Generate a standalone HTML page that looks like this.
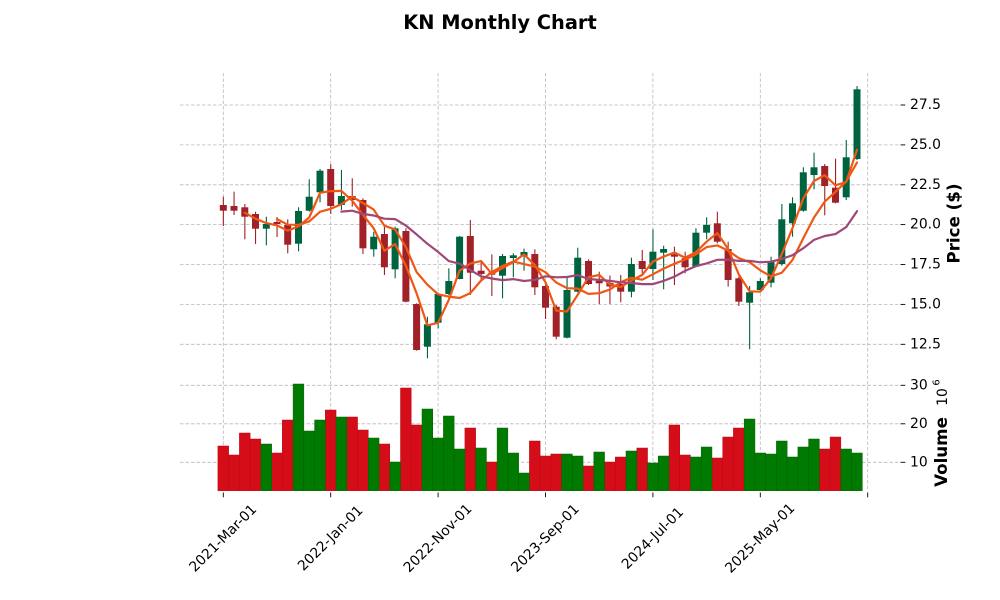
<!DOCTYPE html>
<html>
<head>
<meta charset="utf-8">
<style>
html,body{margin:0;padding:0;background:#fff;}
svg{display:block;}
text{font-family:"DejaVu Sans","Liberation Sans",sans-serif;fill:#000;}
</style>
</head>
<body>
<svg width="1000" height="600" viewBox="0 0 1000 600" xmlns="http://www.w3.org/2000/svg">
<rect width="1000" height="600" fill="#fff"/>
<text x="500" y="29" text-anchor="middle" font-size="19.4" font-weight="bold">KN Monthly Chart</text>

<!-- grid -->
<g stroke="#b9b9b9" stroke-width="0.8" stroke-dasharray="3.5,2" fill="none">
  <line x1="180" y1="105" x2="900" y2="105"/>
  <line x1="180" y1="144.9" x2="900" y2="144.9"/>
  <line x1="180" y1="184.8" x2="900" y2="184.8"/>
  <line x1="180" y1="224.6" x2="900" y2="224.6"/>
  <line x1="180" y1="264.5" x2="900" y2="264.5"/>
  <line x1="180" y1="304.4" x2="900" y2="304.4"/>
  <line x1="180" y1="344.3" x2="900" y2="344.3"/>
  <line x1="180" y1="385.3" x2="900" y2="385.3"/>
  <line x1="180" y1="423.8" x2="900" y2="423.8"/>
  <line x1="180" y1="462.3" x2="900" y2="462.3"/>
  <line x1="223.3" y1="73" x2="223.3" y2="491"/>
  <line x1="330.7" y1="73" x2="330.7" y2="491"/>
  <line x1="438.1" y1="73" x2="438.1" y2="491"/>
  <line x1="545.5" y1="73" x2="545.5" y2="491"/>
  <line x1="652.9" y1="73" x2="652.9" y2="491"/>
  <line x1="760.3" y1="73" x2="760.3" y2="491"/>
  <line x1="867.7" y1="73" x2="867.7" y2="491"/>
</g>

<!-- price ticks -->
<g stroke="#000" stroke-width="0.9">
  <line x1="900.5" y1="105" x2="905.3" y2="105"/>
  <line x1="900.5" y1="144.9" x2="905.3" y2="144.9"/>
  <line x1="900.5" y1="184.8" x2="905.3" y2="184.8"/>
  <line x1="900.5" y1="224.6" x2="905.3" y2="224.6"/>
  <line x1="900.5" y1="264.5" x2="905.3" y2="264.5"/>
  <line x1="900.5" y1="304.4" x2="905.3" y2="304.4"/>
  <line x1="900.5" y1="344.3" x2="905.3" y2="344.3"/>
  <line x1="900.5" y1="385.3" x2="905.3" y2="385.3"/>
  <line x1="900.5" y1="423.8" x2="905.3" y2="423.8"/>
  <line x1="900.5" y1="462.3" x2="905.3" y2="462.3"/>
  <line x1="223.3" y1="492.5" x2="223.3" y2="497.3"/>
  <line x1="330.7" y1="492.5" x2="330.7" y2="497.3"/>
  <line x1="438.1" y1="492.5" x2="438.1" y2="497.3"/>
  <line x1="545.5" y1="492.5" x2="545.5" y2="497.3"/>
  <line x1="652.9" y1="492.5" x2="652.9" y2="497.3"/>
  <line x1="760.3" y1="492.5" x2="760.3" y2="497.3"/>
  <line x1="867.7" y1="492.5" x2="867.7" y2="497.3"/>
</g>
<g font-size="13.9" dominant-baseline="central">
  <text x="910" y="105">27.5</text>
  <text x="910" y="144.9">25.0</text>
  <text x="910" y="184.8">22.5</text>
  <text x="910" y="224.6">20.0</text>
  <text x="910" y="264.5">17.5</text>
  <text x="910" y="304.4">15.0</text>
  <text x="910" y="344.3">12.5</text>
  <text x="910" y="385.3">30</text>
  <text x="910" y="423.8">20</text>
  <text x="910" y="462.3">10</text>
</g>
<g font-size="13.9" text-anchor="middle" dominant-baseline="central">
  <text transform="translate(223.3,538.5) rotate(-45)">2021-Mar-01</text>
  <text transform="translate(330.7,538.5) rotate(-45)">2022-Jan-01</text>
  <text transform="translate(438.1,538.5) rotate(-45)">2022-Nov-01</text>
  <text transform="translate(545.5,538.5) rotate(-45)">2023-Sep-01</text>
  <text transform="translate(652.9,538.5) rotate(-45)">2024-Jul-01</text>
  <text transform="translate(760.3,538.5) rotate(-45)">2025-May-01</text>
</g>
<text transform="translate(953.5,223.5) rotate(-90)" text-anchor="middle" dominant-baseline="central" font-size="16.7" font-weight="bold">Price ($)</text>
<text transform="translate(941,452) rotate(-90)" text-anchor="middle" dominant-baseline="central" font-size="16.7" font-weight="bold">Volume</text>
<text transform="translate(943,397) rotate(-90)" text-anchor="middle" dominant-baseline="central" font-size="13.9">10</text>
<text transform="translate(937,382.5) rotate(-90)" text-anchor="middle" dominant-baseline="central" font-size="9.8">6</text>

<!-- volume bars -->
<g stroke-width="0.5">
<g fill="#d50d18" stroke="#b80b15">
<rect x="217.9" y="446" width="10.74" height="44.7"/>
<rect x="228.6" y="455" width="10.74" height="35.7"/>
<rect x="239.4" y="433" width="10.74" height="57.7"/>
<rect x="250.1" y="439" width="10.74" height="51.7"/>
<rect x="271.6" y="453" width="10.74" height="37.7"/>
<rect x="282.3" y="420" width="10.74" height="70.7"/>
<rect x="325.3" y="410" width="10.74" height="80.7"/>
<rect x="346.8" y="417" width="10.74" height="73.7"/>
<rect x="357.5" y="430" width="10.74" height="60.7"/>
<rect x="379.0" y="444" width="10.74" height="46.7"/>
<rect x="400.5" y="388" width="10.74" height="102.7"/>
<rect x="411.2" y="425" width="10.74" height="65.7"/>
<rect x="464.9" y="428" width="10.74" height="62.7"/>
<rect x="486.4" y="462" width="10.74" height="28.7"/>
<rect x="529.4" y="441" width="10.74" height="49.7"/>
<rect x="540.1" y="456" width="10.74" height="34.7"/>
<rect x="550.8" y="454" width="10.74" height="36.7"/>
<rect x="583.1" y="466" width="10.74" height="24.7"/>
<rect x="604.5" y="462" width="10.74" height="28.7"/>
<rect x="615.3" y="457" width="10.74" height="33.7"/>
<rect x="636.8" y="448" width="10.74" height="42.7"/>
<rect x="669.0" y="425" width="10.74" height="65.7"/>
<rect x="679.7" y="455" width="10.74" height="35.7"/>
<rect x="711.9" y="458" width="10.74" height="32.7"/>
<rect x="722.7" y="437" width="10.74" height="53.7"/>
<rect x="733.4" y="428" width="10.74" height="62.7"/>
<rect x="819.3" y="449" width="10.74" height="41.7"/>
<rect x="830.1" y="437" width="10.74" height="53.7"/>
</g>
<g fill="#007a00" stroke="#006200">
<rect x="260.9" y="444" width="10.74" height="46.7"/>
<rect x="293.1" y="384" width="10.74" height="106.7"/>
<rect x="303.8" y="431" width="10.74" height="59.7"/>
<rect x="314.6" y="420" width="10.74" height="70.7"/>
<rect x="336.0" y="417" width="10.74" height="73.7"/>
<rect x="368.3" y="438" width="10.74" height="52.7"/>
<rect x="389.7" y="462" width="10.74" height="28.7"/>
<rect x="422.0" y="409" width="10.74" height="81.7"/>
<rect x="432.7" y="438" width="10.74" height="52.7"/>
<rect x="443.4" y="416" width="10.74" height="74.7"/>
<rect x="454.2" y="449" width="10.74" height="41.7"/>
<rect x="475.7" y="448" width="10.74" height="42.7"/>
<rect x="497.1" y="428" width="10.74" height="62.7"/>
<rect x="507.9" y="453" width="10.74" height="37.7"/>
<rect x="518.6" y="473" width="10.74" height="17.7"/>
<rect x="561.6" y="454" width="10.74" height="36.7"/>
<rect x="572.3" y="456" width="10.74" height="34.7"/>
<rect x="593.8" y="452" width="10.74" height="38.7"/>
<rect x="626.0" y="451" width="10.74" height="39.7"/>
<rect x="647.5" y="463" width="10.74" height="27.7"/>
<rect x="658.2" y="456" width="10.74" height="34.7"/>
<rect x="690.5" y="457" width="10.74" height="33.7"/>
<rect x="701.2" y="447" width="10.74" height="43.7"/>
<rect x="744.2" y="419" width="10.74" height="71.7"/>
<rect x="754.9" y="453" width="10.74" height="37.7"/>
<rect x="765.6" y="454" width="10.74" height="36.7"/>
<rect x="776.4" y="441" width="10.74" height="49.7"/>
<rect x="787.1" y="457" width="10.74" height="33.7"/>
<rect x="797.9" y="447" width="10.74" height="43.7"/>
<rect x="808.6" y="439" width="10.74" height="51.7"/>
<rect x="840.8" y="449" width="10.74" height="41.7"/>
<rect x="851.6" y="453" width="10.74" height="37.7"/>
</g>
</g>

<!-- candles: down -->
<g fill="#a02128">
<rect x="222.8" y="196.7" width="1.1" height="29.3"/><rect x="219.8" y="205" width="7" height="5.7"/>
<rect x="233.5" y="191.7" width="1.1" height="23.3"/><rect x="230.5" y="206" width="7" height="4.7"/>
<rect x="244.3" y="204" width="1.1" height="35.3"/><rect x="241.3" y="207.3" width="7" height="9.4"/>
<rect x="255.0" y="211.7" width="1.1" height="32.3"/><rect x="252.0" y="214" width="7" height="14.7"/>
<rect x="276.5" y="217" width="1.1" height="20"/><rect x="273.5" y="222" width="7" height="2"/>
<rect x="287.2" y="219.3" width="1.1" height="34"/><rect x="284.2" y="225" width="7" height="19.7"/>
<rect x="330.2" y="164.3" width="1.1" height="49.7"/><rect x="327.2" y="169" width="7" height="37"/>
<rect x="351.7" y="178.3" width="1.1" height="28.4"/><rect x="348.7" y="196" width="7" height="4"/>
<rect x="362.4" y="198.3" width="1.1" height="55.7"/><rect x="359.4" y="200" width="7" height="48.3"/>
<rect x="383.9" y="226.7" width="1.1" height="48.3"/><rect x="380.9" y="234" width="7" height="33.3"/>
<rect x="405.4" y="228.3" width="1.1" height="74"/><rect x="402.4" y="231" width="7" height="70.7"/>
<rect x="416.1" y="303.3" width="1.1" height="47.4"/><rect x="413.1" y="304" width="7" height="46"/>
<rect x="469.8" y="220" width="1.1" height="75"/><rect x="466.8" y="236" width="7" height="36.7"/>
<rect x="480.6" y="261.7" width="1.1" height="20"/><rect x="477.6" y="270.7" width="7" height="3.3"/>
<rect x="491.3" y="254.3" width="1.1" height="41.7"/><rect x="488.3" y="272.7" width="7" height="2"/>
<rect x="534.3" y="249.3" width="1.1" height="45.7"/><rect x="531.3" y="254" width="7" height="33.3"/>
<rect x="545.0" y="285" width="1.1" height="34"/><rect x="542.0" y="286" width="7" height="21.7"/>
<rect x="555.7" y="305" width="1.1" height="34.3"/><rect x="552.7" y="306.7" width="7" height="30"/>
<rect x="588.0" y="259.3" width="1.1" height="25.7"/><rect x="585.0" y="261" width="7" height="23"/>
<rect x="598.7" y="271.7" width="1.1" height="32.3"/><rect x="595.7" y="280.7" width="7" height="2.6"/>
<rect x="609.4" y="275.5" width="1.1" height="28.5"/><rect x="606.4" y="283" width="7" height="3.5"/>
<rect x="620.2" y="275" width="1.1" height="27.3"/><rect x="617.2" y="284" width="7" height="7.7"/>
<rect x="641.7" y="250" width="1.1" height="23.3"/><rect x="638.7" y="261" width="7" height="8"/>
<rect x="673.9" y="246.7" width="1.1" height="38.3"/><rect x="670.9" y="254.3" width="7" height="2.4"/>
<rect x="684.6" y="251.7" width="1.1" height="21.6"/><rect x="681.6" y="258.3" width="7" height="9"/>
<rect x="716.8" y="211.7" width="1.1" height="31.6"/><rect x="713.8" y="223.3" width="7" height="18.4"/>
<rect x="727.6" y="241.7" width="1.1" height="45"/><rect x="724.6" y="249" width="7" height="31"/>
<rect x="738.3" y="276.7" width="1.1" height="29.3"/><rect x="735.3" y="278.3" width="7" height="23.4"/>
<rect x="824.2" y="164" width="1.1" height="51.3"/><rect x="821.2" y="166" width="7" height="20"/>
<rect x="835.0" y="158.7" width="1.1" height="44.6"/><rect x="832.0" y="187.7" width="7" height="15"/>
</g>
<!-- candles: up -->
<g fill="#006340">
<rect x="265.8" y="216.7" width="1.1" height="28.6"/><rect x="262.8" y="224" width="7" height="4.7"/>
<rect x="298.0" y="207.3" width="1.1" height="44"/><rect x="295.0" y="211" width="7" height="32.7"/>
<rect x="308.7" y="179.3" width="1.1" height="32.4"/><rect x="305.7" y="196.7" width="7" height="14"/>
<rect x="319.5" y="169" width="1.1" height="33.3"/><rect x="316.5" y="170.7" width="7" height="21.6"/>
<rect x="340.9" y="170" width="1.1" height="40"/><rect x="337.9" y="196" width="7" height="9"/>
<rect x="373.2" y="231.7" width="1.1" height="25"/><rect x="370.2" y="236.7" width="7" height="12.6"/>
<rect x="394.6" y="226.7" width="1.1" height="51.6"/><rect x="391.6" y="228.3" width="7" height="41"/>
<rect x="426.9" y="316.7" width="1.1" height="41.6"/><rect x="423.9" y="324.3" width="7" height="22.4"/>
<rect x="437.6" y="292.7" width="1.1" height="35.6"/><rect x="434.6" y="294" width="7" height="28.7"/>
<rect x="448.3" y="268.3" width="1.1" height="26.7"/><rect x="445.3" y="281" width="7" height="13"/>
<rect x="459.1" y="236" width="1.1" height="43.3"/><rect x="456.1" y="236.7" width="7" height="42.3"/>
<rect x="502.0" y="254" width="1.1" height="44.3"/><rect x="499.0" y="256" width="7" height="19.7"/>
<rect x="512.8" y="253.3" width="1.1" height="24"/><rect x="509.8" y="255.3" width="7" height="2.7"/>
<rect x="523.5" y="248.7" width="1.1" height="22"/><rect x="520.5" y="252" width="7" height="4"/>
<rect x="566.5" y="277.3" width="1.1" height="61"/><rect x="563.5" y="290" width="7" height="47.7"/>
<rect x="577.2" y="247.7" width="1.1" height="44.6"/><rect x="574.2" y="257.7" width="7" height="34"/>
<rect x="630.9" y="257.7" width="1.1" height="39.6"/><rect x="627.9" y="264" width="7" height="27.7"/>
<rect x="652.4" y="229.3" width="1.1" height="50.7"/><rect x="649.4" y="251.7" width="7" height="17.3"/>
<rect x="663.1" y="245.7" width="1.1" height="43.6"/><rect x="660.1" y="249" width="7" height="3.7"/>
<rect x="695.4" y="228.3" width="1.1" height="39"/><rect x="692.4" y="232.7" width="7" height="34"/>
<rect x="706.1" y="217.3" width="1.1" height="22"/><rect x="703.1" y="225" width="7" height="7.7"/>
<rect x="749.1" y="286" width="1.1" height="63.3"/><rect x="746.1" y="292.3" width="7" height="10.4"/>
<rect x="759.8" y="278.3" width="1.1" height="12.4"/><rect x="756.8" y="281" width="7" height="9"/>
<rect x="770.5" y="256.7" width="1.1" height="30.6"/><rect x="767.5" y="261.7" width="7" height="21"/>
<rect x="781.3" y="204" width="1.1" height="61.7"/><rect x="778.3" y="219.3" width="7" height="44.7"/>
<rect x="792.0" y="197.3" width="1.1" height="39.4"/><rect x="789.0" y="203.3" width="7" height="20"/>
<rect x="802.8" y="167.3" width="1.1" height="44.4"/><rect x="799.8" y="172.3" width="7" height="38.4"/>
<rect x="813.5" y="152.7" width="1.1" height="36.6"/><rect x="810.5" y="167.3" width="7" height="7.7"/>
<rect x="845.7" y="140" width="1.1" height="60"/><rect x="842.7" y="157.3" width="7" height="40"/>
<rect x="856.5" y="86" width="1.1" height="74"/><rect x="853.5" y="89.3" width="7" height="69.7"/>
</g>

<!-- moving averages -->
<g fill="none" stroke-width="2.2" stroke-linejoin="round" stroke-linecap="round">
<polyline stroke="#ef5714" points="244.8,212.7 255.5,218.7 266.3,223.1 277.0,225.4 287.7,230.7 298.5,226.4 309.2,217.5 320.0,192.8 330.7,191.1 341.4,190.9 352.2,200.7 362.9,214.8 373.7,228.3 384.4,250.8 395.1,244.1 405.9,265.8 416.6,293.3 427.4,325.3 438.1,322.8 448.8,299.8 459.6,270.6 470.3,263.5 481.1,261.1 491.8,273.8 502.5,268.2 513.3,262.0 524.0,254.4 534.8,264.9 545.5,282.3 556.2,310.6 567.0,311.5 577.7,294.8 588.5,277.2 599.2,275.0 609.9,284.4 620.7,287.0 631.4,280.6 642.2,274.9 652.9,261.6 663.6,256.6 674.4,252.5 685.1,257.7 695.9,252.2 706.6,241.7 717.3,233.1 728.1,248.9 738.8,274.5 749.6,291.3 760.3,291.7 771.0,278.3 781.8,254.0 792.5,228.1 803.3,198.3 814.0,181.0 824.7,175.2 835.5,185.3 846.2,182.0 857.0,149.8"/>
<polyline stroke="#ef5714" points="277.0,219.1 287.7,224.7 298.5,224.8 309.2,221.4 320.0,211.8 330.7,208.8 341.4,204.2 352.2,196.7 362.9,203.0 373.7,209.6 384.4,225.7 395.1,229.4 405.9,247.1 416.6,272.1 427.4,284.7 438.1,294.3 448.8,296.6 459.6,298.0 470.3,293.1 481.1,280.5 491.8,272.2 502.5,265.9 513.3,261.6 524.0,264.1 534.8,266.6 545.5,272.2 556.2,282.5 567.0,288.2 577.7,288.6 588.5,293.9 599.2,293.2 609.9,289.6 620.7,282.1 631.4,277.8 642.2,279.7 652.9,274.3 663.6,268.6 674.4,263.7 685.1,259.6 695.9,254.4 706.6,247.1 717.3,245.4 728.1,250.6 738.8,258.1 749.6,262.2 760.3,270.3 771.0,276.4 781.8,272.7 792.5,259.9 803.3,238.3 814.0,217.5 824.7,201.7 835.5,191.8 846.2,181.5 857.0,162.5"/>
<polyline stroke="#9f4878" points="341.4,211.6 352.2,210.7 362.9,213.9 373.7,215.5 384.4,218.7 395.1,219.1 405.9,225.6 416.6,234.4 427.4,243.8 438.1,251.9 448.8,261.1 459.6,263.7 470.3,270.1 481.1,276.3 491.8,278.5 502.5,280.1 513.3,279.1 524.0,281.0 534.8,279.8 545.5,276.3 556.2,277.3 567.0,277.0 577.7,275.1 588.5,279.0 599.2,279.9 609.9,280.9 620.7,282.3 631.4,283.0 642.2,284.1 652.9,284.1 663.6,280.9 674.4,276.7 685.1,270.9 695.9,266.1 706.6,263.4 717.3,259.8 728.1,259.6 738.8,260.9 749.6,260.9 760.3,262.3 771.0,261.7 781.8,259.0 792.5,255.2 803.3,248.2 814.0,239.9 824.7,236.0 835.5,234.1 846.2,227.1 857.0,211.2"/>
</g>
</svg>
</body>
</html>
